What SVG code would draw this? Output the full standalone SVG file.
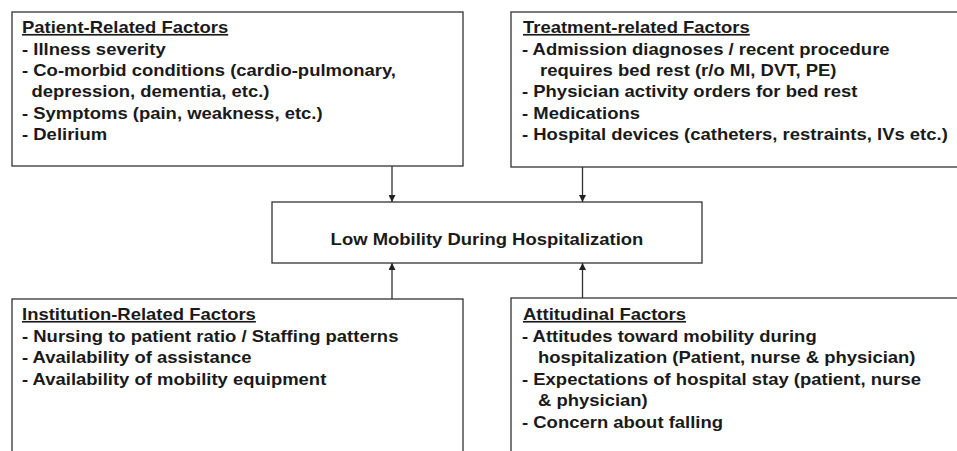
<svg xmlns="http://www.w3.org/2000/svg" width="957" height="451" viewBox="0 0 957 451">
<defs>
<style>
.box{fill:#fff;stroke:#333;stroke-width:1.3}
.t{font-family:"Liberation Sans",Arial,sans-serif;font-weight:bold;font-size:16.5px;fill:#1a1a1a}
.h{text-decoration:underline}
.c{stroke:#333;stroke-width:1.3;fill:none}
</style>
<marker id="ah" viewBox="0 0 10 10" refX="10" refY="5" markerWidth="7" markerHeight="7" markerUnits="userSpaceOnUse" orient="auto">
<path d="M0,0 L10,5 L0,10 z" fill="#222"/>
</marker>
</defs>
<rect width="957" height="451" fill="#fff"/>
<g id="patient">
<rect class="box" x="12" y="12" width="451" height="154"/>
<text class="t h" transform="translate(22 33) scale(1.12 1)">Patient-Related Factors</text>
<text class="t" transform="translate(22 54.5) scale(1.12 1)">- Illness severity</text>
<text class="t" transform="translate(22 76) scale(1.12 1)">- Co-morbid conditions (cardio-pulmonary,</text>
<text class="t" transform="translate(31.5 97) scale(1.12 1)">depression, dementia, etc.)</text>
<text class="t" transform="translate(22 118.5) scale(1.12 1)">- Symptoms (pain, weakness, etc.)</text>
<text class="t" transform="translate(22 140) scale(1.12 1)">- Delirium</text>
</g>
<g id="treatment">
<rect class="box" x="511" y="12" width="460" height="155"/>
<text class="t h" transform="translate(523 33) scale(1.12 1)">Treatment-related Factors</text>
<text class="t" transform="translate(522 54.5) scale(1.12 1)">- Admission diagnoses / recent procedure</text>
<text class="t" transform="translate(540 76) scale(1.12 1)">requires bed rest (r/o MI, DVT, PE)</text>
<text class="t" transform="translate(522 97) scale(1.12 1)">- Physician activity orders for bed rest</text>
<text class="t" transform="translate(522 118.5) scale(1.12 1)">- Medications</text>
<text class="t" transform="translate(522 140) scale(1.12 1)">- Hospital devices (catheters, restraints, IVs etc.)</text>
</g>
<g id="center">
<rect class="box" x="272" y="202" width="430" height="61"/>
<text class="t" text-anchor="middle" transform="translate(487 244.5) scale(1.12 1)">Low Mobility During Hospitalization</text>
</g>
<g id="institution">
<rect class="box" x="12" y="299" width="451" height="170"/>
<text class="t h" transform="translate(22 320) scale(1.12 1)">Institution-Related Factors</text>
<text class="t" transform="translate(22 341.5) scale(1.12 1)">- Nursing to patient ratio / Staffing patterns</text>
<text class="t" transform="translate(22 363) scale(1.12 1)">- Availability of assistance</text>
<text class="t" transform="translate(22 384.5) scale(1.12 1)">- Availability of mobility equipment</text>
</g>
<g id="attitudinal">
<rect class="box" x="511" y="298" width="460" height="170"/>
<text class="t h" transform="translate(523 320) scale(1.12 1)">Attitudinal Factors</text>
<text class="t" transform="translate(522 341.5) scale(1.12 1)">- Attitudes toward mobility during</text>
<text class="t" transform="translate(538 363) scale(1.12 1)">hospitalization (Patient, nurse &amp; physician)</text>
<text class="t" transform="translate(522 384.5) scale(1.12 1)">- Expectations of hospital stay (patient, nurse</text>
<text class="t" transform="translate(538 406) scale(1.12 1)">&amp; physician)</text>
<text class="t" transform="translate(522 427.5) scale(1.12 1)">- Concern about falling</text>
</g>
<g id="connectors">
<line class="c" x1="392" y1="166" x2="392" y2="202" marker-end="url(#ah)"/>
<line class="c" x1="582.5" y1="167" x2="582.5" y2="202" marker-end="url(#ah)"/>
<line class="c" x1="392" y1="299" x2="392" y2="263" marker-end="url(#ah)"/>
<line class="c" x1="582.5" y1="298" x2="582.5" y2="263" marker-end="url(#ah)"/>
</g>
</svg>
